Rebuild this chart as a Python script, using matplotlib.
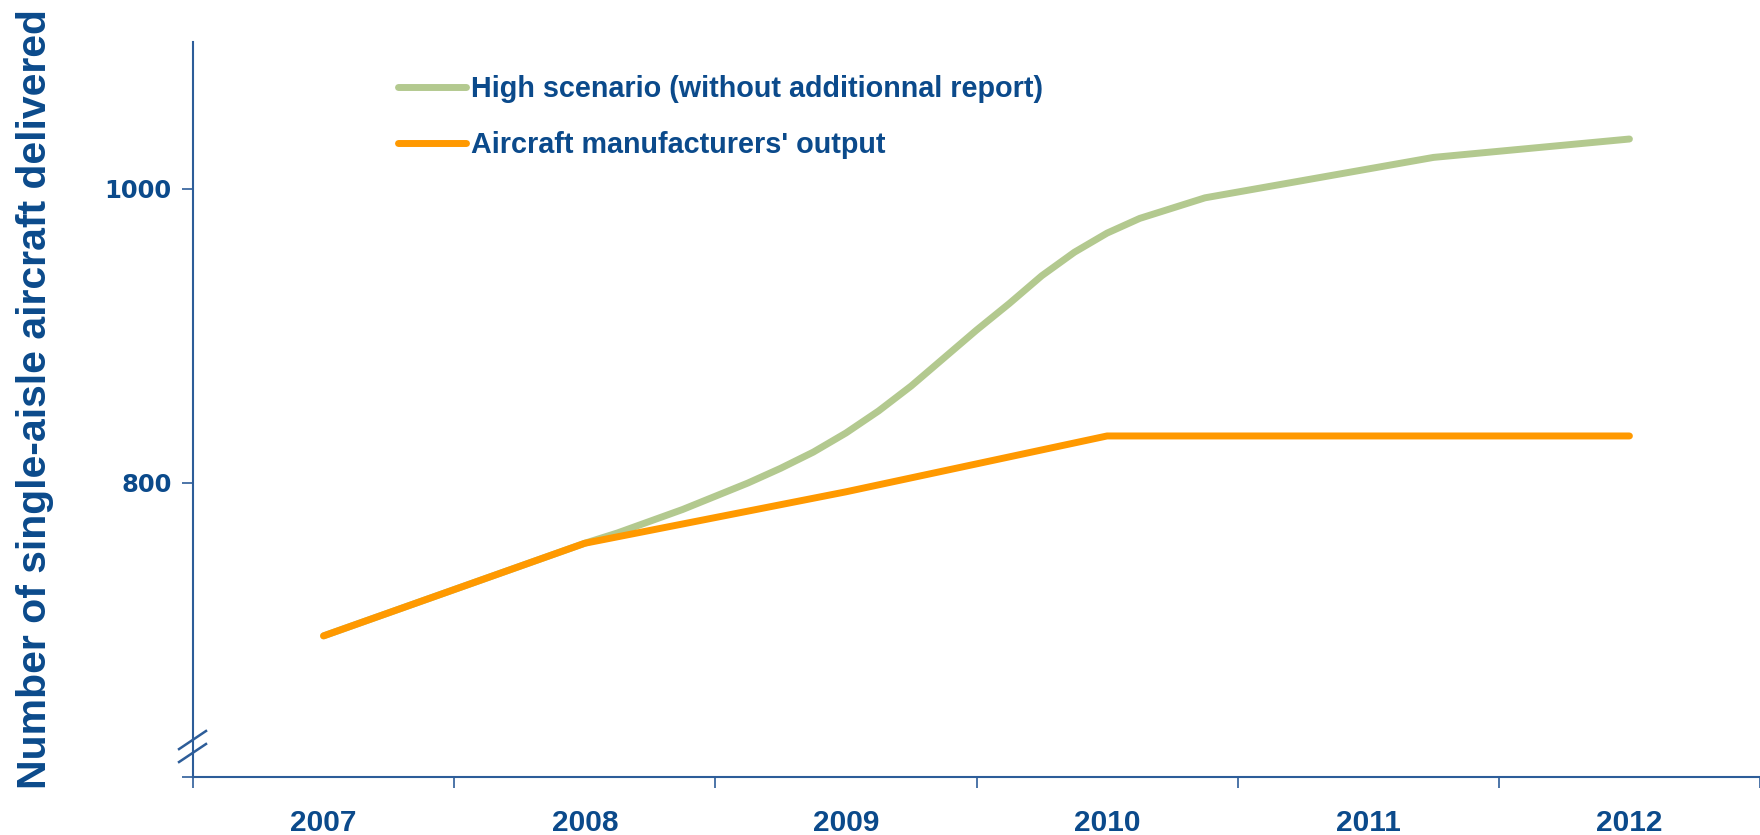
import matplotlib.pyplot as plt
from matplotlib.lines import Line2D

# data
years = [2007, 2008, 2009, 2010, 2011, 2012]
output_x = [2007, 2008, 2009, 2010, 2011, 2012]
output_y = [696, 759, 794, 832, 832, 832]
high_x = [2007, 2008, 2008.125, 2008.25, 2008.375, 2008.5, 2008.625, 2008.75, 2008.875,
          2009, 2009.125, 2009.25, 2009.375, 2009.5, 2009.625, 2009.75, 2009.875,
          2010, 2010.125, 2010.25, 2010.375, 2011.25, 2012]
high_y = [696, 759, 766, 774, 782, 791, 800, 810, 821,
          834, 849, 866, 885, 904, 922, 941, 957,
          970, 980, 987, 994, 1021.5, 1034]

blue = "#0b4a8b"
axis_col = "#2d5d99"
sans = "Liberation Sans"

fig = plt.figure(figsize=(17.6, 8.35), dpi=100)
ax = fig.add_axes([193 / 1760, 1 - 777 / 835, 1567 / 1760, 735 / 835])

ax.plot(high_x, high_y, color="#b3c98f", lw=5, solid_capstyle="round",
        label="High scenario (without additionnal report)")
ax.plot(output_x, output_y, color="#ff9900", lw=5, solid_capstyle="round",
        label="Aircraft manufacturers' output")

ax.set_xlim(2006.5, 2012.5)
ax.set_ylim(600, 1100)

ax.set_xticks(years)
ax.set_xticklabels([str(y) for y in years])
ax.set_xticks([y - 0.5 for y in years] + [2012.5], minor=True)
ax.tick_params(axis="x", which="major", length=0, pad=23, labelsize=21.5,
               labelcolor=blue)
ax.tick_params(axis="x", which="minor", length=8, width=1.2, color=axis_col,
               direction="out")
for t in ax.get_xticklabels():
    t.set_fontfamily(sans)
    t.set_fontweight("bold")

ax.set_yticks([600, 800, 1000])
ax.set_yticklabels(["", "800", "1000"])
ax.tick_params(axis="y", length=8, width=1.2, color=axis_col, pad=7.5,
               labelsize=17.5, labelcolor=blue)
for t in ax.get_yticklabels():
    t.set_fontweight("bold")

for s in ["top", "right"]:
    ax.spines[s].set_visible(False)
for s in ["left", "bottom"]:
    ax.spines[s].set_color(axis_col)
    ax.spines[s].set_linewidth(1.5)

# axis break marks
for y0, y1 in [(0.038, 0.0626), (0.0204, 0.0449)]:
    ax.add_line(Line2D([-0.0089, 0.0083], [y0, y1], transform=ax.transAxes,
                       color=axis_col, lw=1.8, clip_on=False))

leg = ax.legend(loc="upper left", bbox_to_anchor=(0.1308, 0.955), frameon=False,
                borderpad=0, borderaxespad=0, handlelength=2.36,
                handletextpad=0.17, labelspacing=0.98,
                prop={"family": sans, "weight": "bold", "size": 20.7})
for t in leg.get_texts():
    t.set_color(blue)

fig.text(35 / 1760, 1 - 399 / 835, "Number of single-aisle aircraft delivered",
         rotation=90, ha="center", va="center", color=blue,
         family=sans, weight="bold", fontsize=29.5)

fig.savefig("out.png", dpi=100)
